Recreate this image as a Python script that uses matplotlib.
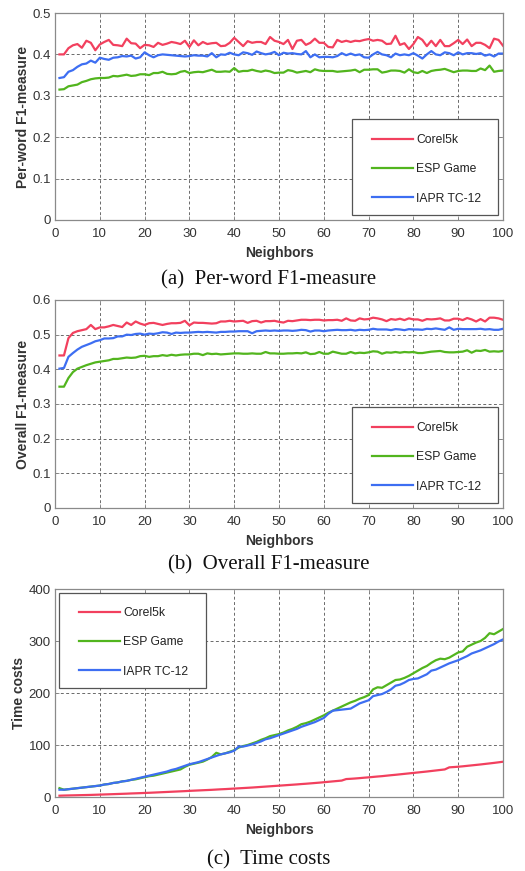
import numpy as np
import matplotlib
matplotlib.use("Agg")
import matplotlib.pyplot as plt
from matplotlib.patches import Rectangle
from matplotlib.ticker import FuncFormatter

# ---- data ------------------------------------------------------------------
neighbors = np.arange(1, 101)
labels = ["Corel5k", "ESP Game", "IAPR TC-12"]

# (a) per-word F1-measure
perword_corel = [
    0.400, 0.400, 0.415, 0.422, 0.425, 0.416, 0.433, 0.428, 0.410, 0.424,
    0.430, 0.435, 0.423, 0.422, 0.420, 0.438, 0.427, 0.426, 0.415, 0.423,
    0.422, 0.418, 0.428, 0.423, 0.426, 0.430, 0.428, 0.425, 0.433, 0.418,
    0.434, 0.422, 0.430, 0.425, 0.427, 0.428, 0.420, 0.421, 0.428, 0.440,
    0.430, 0.420, 0.432, 0.428, 0.430, 0.430, 0.425, 0.442, 0.433, 0.430,
    0.425, 0.435, 0.413, 0.433, 0.435, 0.423, 0.428, 0.438, 0.428, 0.428,
    0.418, 0.417, 0.435, 0.430, 0.433, 0.430, 0.433, 0.432, 0.435, 0.437,
    0.433, 0.435, 0.433, 0.425, 0.426, 0.445, 0.423, 0.427, 0.413, 0.425,
    0.442, 0.435, 0.420, 0.433, 0.420, 0.435, 0.420, 0.420, 0.427, 0.435,
    0.425, 0.436, 0.420, 0.428, 0.428, 0.423, 0.415, 0.438, 0.435, 0.421]
perword_esp = [
    0.315, 0.316, 0.323, 0.325, 0.327, 0.333, 0.336, 0.340, 0.342, 0.343,
    0.343, 0.344, 0.348, 0.347, 0.349, 0.351, 0.348, 0.349, 0.352, 0.352,
    0.350, 0.355, 0.355, 0.358, 0.353, 0.352, 0.353, 0.358, 0.360, 0.355,
    0.357, 0.358, 0.357, 0.360, 0.363, 0.358, 0.358, 0.359, 0.358, 0.367,
    0.358, 0.360, 0.360, 0.363, 0.360, 0.358, 0.361, 0.359, 0.355, 0.356,
    0.356, 0.362, 0.360, 0.356, 0.358, 0.360, 0.357, 0.364, 0.361, 0.360,
    0.360, 0.360, 0.358, 0.359, 0.360, 0.361, 0.363, 0.357, 0.363, 0.363,
    0.364, 0.364, 0.356, 0.358, 0.361, 0.361, 0.360, 0.356, 0.364, 0.357,
    0.355, 0.360, 0.355, 0.360, 0.362, 0.363, 0.365, 0.361, 0.357, 0.360,
    0.361, 0.361, 0.360, 0.360, 0.366, 0.362, 0.373, 0.358, 0.360, 0.361]
perword_iapr = [
    0.343, 0.345, 0.358, 0.362, 0.370, 0.376, 0.378, 0.385, 0.380, 0.392,
    0.389, 0.387, 0.392, 0.393, 0.396, 0.395, 0.397, 0.390, 0.393, 0.405,
    0.398, 0.393, 0.398, 0.400, 0.399, 0.398, 0.397, 0.396, 0.395, 0.396,
    0.398, 0.397, 0.397, 0.395, 0.403, 0.393, 0.400, 0.399, 0.404, 0.400,
    0.398, 0.405, 0.403, 0.399, 0.407, 0.403, 0.400, 0.402, 0.406, 0.398,
    0.404, 0.402, 0.403, 0.401, 0.400, 0.408, 0.393, 0.400, 0.393, 0.394,
    0.394, 0.393, 0.396, 0.403, 0.398, 0.402, 0.398, 0.400, 0.393, 0.392,
    0.400, 0.406, 0.400, 0.398, 0.393, 0.402, 0.398, 0.400, 0.398, 0.403,
    0.397, 0.390, 0.400, 0.408, 0.400, 0.398, 0.405, 0.403, 0.398, 0.405,
    0.400, 0.403, 0.403, 0.401, 0.403, 0.397, 0.400, 0.395, 0.402, 0.402]

# (b) overall F1-measure
overall_corel = [
    0.440, 0.440, 0.490, 0.505, 0.510, 0.513, 0.516, 0.528, 0.516, 0.521,
    0.521, 0.524, 0.528, 0.525, 0.522, 0.535, 0.528, 0.538, 0.532, 0.528,
    0.533, 0.534, 0.531, 0.528, 0.531, 0.533, 0.533, 0.534, 0.540, 0.527,
    0.535, 0.534, 0.534, 0.533, 0.532, 0.533, 0.538, 0.538, 0.540, 0.538,
    0.539, 0.540, 0.534, 0.539, 0.540, 0.535, 0.539, 0.539, 0.540, 0.537,
    0.535, 0.540, 0.539, 0.541, 0.543, 0.543, 0.542, 0.543, 0.543, 0.541,
    0.542, 0.542, 0.543, 0.540, 0.547, 0.541, 0.540, 0.547, 0.544, 0.545,
    0.549, 0.547, 0.544, 0.539, 0.545, 0.543, 0.546, 0.542, 0.547, 0.544,
    0.544, 0.540, 0.545, 0.544, 0.545, 0.547, 0.541, 0.541, 0.546, 0.546,
    0.542, 0.548, 0.544, 0.538, 0.545, 0.538, 0.549, 0.549, 0.547, 0.543]
overall_esp = [
    0.350, 0.350, 0.375, 0.392, 0.402, 0.407, 0.412, 0.416, 0.420, 0.422,
    0.424, 0.426, 0.430, 0.430, 0.432, 0.434, 0.433, 0.434, 0.438, 0.439,
    0.436, 0.438, 0.438, 0.441, 0.439, 0.442, 0.440, 0.442, 0.443, 0.443,
    0.445, 0.445, 0.441, 0.446, 0.444, 0.445, 0.443, 0.444, 0.445, 0.446,
    0.446, 0.445, 0.445, 0.446, 0.445, 0.445, 0.450, 0.446, 0.446, 0.445,
    0.445, 0.446, 0.446, 0.447, 0.446, 0.449, 0.444, 0.445, 0.450, 0.445,
    0.445, 0.451, 0.448, 0.445, 0.445, 0.450, 0.446, 0.448, 0.447, 0.449,
    0.452, 0.451, 0.445, 0.449, 0.448, 0.450, 0.448, 0.450, 0.449, 0.450,
    0.447, 0.447, 0.449, 0.451, 0.452, 0.453, 0.450, 0.449, 0.449, 0.450,
    0.451, 0.455, 0.448, 0.454, 0.453, 0.456, 0.451, 0.452, 0.451, 0.453]
overall_iapr = [
    0.402, 0.404, 0.436, 0.447, 0.457, 0.465, 0.470, 0.475, 0.481, 0.484,
    0.489, 0.489, 0.490, 0.495, 0.495, 0.500, 0.499, 0.502, 0.503, 0.500,
    0.503, 0.502, 0.504, 0.507, 0.506, 0.502, 0.506, 0.505, 0.506, 0.506,
    0.507, 0.508, 0.507, 0.508, 0.507, 0.506, 0.508, 0.508, 0.509, 0.509,
    0.510, 0.510, 0.510, 0.504, 0.510, 0.511, 0.512, 0.511, 0.512, 0.511,
    0.512, 0.512, 0.511, 0.512, 0.514, 0.513, 0.509, 0.512, 0.512, 0.510,
    0.512, 0.513, 0.514, 0.513, 0.513, 0.514, 0.512, 0.514, 0.513, 0.514,
    0.517, 0.515, 0.515, 0.515, 0.513, 0.516, 0.515, 0.513, 0.516, 0.515,
    0.515, 0.514, 0.517, 0.516, 0.518, 0.516, 0.514, 0.521, 0.514, 0.517,
    0.516, 0.516, 0.516, 0.516, 0.517, 0.515, 0.516, 0.514, 0.514, 0.517]

# (c) time costs
time_corel = [
    2.5, 2.8, 3.0, 3.2, 3.4, 3.6, 3.8, 4.0, 4.3, 4.6,
    4.9, 5.2, 5.5, 5.8, 6.1, 6.4, 6.8, 7.1, 7.4, 7.8,
    8.1, 8.5, 8.9, 9.3, 9.7, 10.1, 10.5, 10.9, 11.3, 11.8,
    12.2, 12.6, 13.0, 13.4, 13.8, 14.3, 14.8, 15.2, 15.7, 16.2,
    16.7, 17.2, 17.7, 18.2, 18.8, 19.4, 20.0, 20.6, 21.2, 21.8,
    22.4, 23.0, 23.6, 24.2, 24.9, 25.5, 26.2, 26.9, 27.6, 28.4,
    29.2, 30.0, 30.8, 31.6, 34.5, 35.0, 35.6, 36.3, 37.1, 37.8,
    38.6, 39.4, 40.1, 41.0, 41.9, 42.7, 43.6, 44.5, 45.4, 46.3,
    47.2, 48.1, 49.0, 50.0, 51.0, 52.0, 53.0, 57.0, 57.6, 58.2,
    59.0, 59.9, 60.8, 61.7, 62.6, 63.6, 64.6, 65.6, 66.7, 67.8]
time_esp = [
    17, 14, 15, 16, 17, 18, 19, 20, 21, 22,
    24, 25, 27, 28, 30, 31, 33, 34, 36, 38,
    40, 41, 43, 45, 47, 49, 51, 53, 58, 62,
    64, 66, 68, 72, 77, 85, 82, 84, 87, 90,
    95, 98, 100, 103, 106, 110, 113, 117, 119, 121,
    124, 128, 131, 135, 140, 142, 145, 149, 153, 157,
    162, 166, 170, 174, 178, 182, 185, 189, 192, 196,
    207, 211, 210, 215, 220, 225, 226, 229, 233, 238,
    243, 248, 252, 258, 263, 266, 265, 268, 273, 278,
    280, 289, 293, 297, 300, 306, 315, 313, 318, 323]
time_iapr = [
    14, 14, 15, 16, 17, 18, 19, 20, 21, 22,
    24, 25, 27, 28, 30, 31, 33, 35, 37, 39,
    41, 43, 45, 47, 49, 52, 54, 57, 60, 63,
    65, 67, 70, 73, 76, 79, 82, 84, 86, 89,
    97, 97, 99, 101, 104, 107, 111, 113, 116, 119,
    122, 125, 128, 131, 135, 138, 141, 144, 148, 152,
    160, 166, 167, 168, 169, 170, 175, 180, 183, 186,
    194, 196, 198, 202, 207, 214, 216, 220, 225, 227,
    228, 232, 236, 243, 245, 249, 253, 257, 260, 263,
    267, 271, 276, 279, 282, 286, 290, 294, 299, 303]

colors = ["#F2405E", "#52B51E", "#3D6EF2"]


def setup_axes(rect, ymax, ystep, ylabel, fmt):
    ax = fig.add_axes(rect)
    ax.set_xlim(0, 100)
    ax.set_ylim(0, ymax)
    ax.set_xticks(np.arange(0, 101, 10))
    ax.set_yticks(np.arange(0, ymax + ystep / 2, ystep))
    ax.yaxis.set_major_formatter(fmt)
    ax.grid(True, ls=(0, (3, 2.5)), lw=0.7, color="#6a6a6a")
    ax.set_axisbelow(True)
    for sp in ax.spines.values():
        sp.set_color("#8a8a8a")
        sp.set_linewidth(0.9)
    ax.tick_params(direction="in", length=3, width=0.6, color="#8a8a8a",
                   top=True, right=True, labelsize=9.5, labelcolor="#333333")
    ax.tick_params(axis="x", pad=6)
    ax.tick_params(axis="y", pad=3)
    ax.set_xlabel("Neighbors", fontsize=10, fontweight="bold",
                  color="#333333", labelpad=4)
    ax.set_ylabel(ylabel, fontsize=10, fontweight="bold", color="#333333",
                  labelpad=2)
    return ax


def draw_lines(ax, series):
    for vals, c, lab in zip(series, colors, labels):
        ax.plot(neighbors, vals, color=c, lw=1.6, label=lab)


def add_legend(ax, box, content_anchor):
    # MATLAB-style boxed legend: frame drawn separately so the padding
    # can be wider left/right than top/bottom
    x0, y0, x1, y1 = box
    ax.add_patch(Rectangle((x0, y0), x1 - x0, y1 - y0, transform=ax.transAxes,
                           facecolor="white", edgecolor="#555555", lw=0.9,
                           zorder=4.5))
    leg = ax.legend(loc="upper left", bbox_to_anchor=content_anchor,
                    fontsize=8.7, handlelength=3.4, handletextpad=0.25,
                    labelspacing=1.42, borderpad=0, borderaxespad=0,
                    frameon=False)
    leg.set_zorder(5)
    for t in leg.get_texts():
        t.set_color("#222222")


plt.rcParams["font.family"] = ["Liberation Sans", "DejaVu Sans"]
fig = plt.figure(figsize=(5.25, 8.71), dpi=100)

W, H = 525.0, 871.0
g = FuncFormatter(lambda v, p: "%g" % round(v, 3))

# (a)
ax1 = setup_axes([55 / W, 1 - 220 / H, 448 / W, 207 / H], 0.5, 0.1,
                 "Per-word F1-measure", g)
draw_lines(ax1, [perword_corel, perword_esp, perword_iapr])
add_legend(ax1, (0.663, 0.024, 0.989, 0.488), (0.7076, 0.414))

# (b)
ax2 = setup_axes([55 / W, 1 - 508 / H, 448 / W, 208 / H], 0.6, 0.1,
                 "Overall F1-measure", g)
draw_lines(ax2, [overall_corel, overall_esp, overall_iapr])
add_legend(ax2, (0.663, 0.0255, 0.989, 0.484), (0.7076, 0.412))

# (c)
ax3 = setup_axes([55 / W, 1 - 797 / H, 448 / W, 208 / H], 400, 100,
                 "Time costs", g)
draw_lines(ax3, [time_corel, time_esp, time_iapr])
add_legend(ax3, (0.0089, 0.524, 0.337, 0.981), (0.0536, 0.912))

# captions under each panel
cap = dict(ha="center", va="center", fontsize=15,
           family=["Liberation Serif", "DejaVu Serif"], color="#111111")
fig.text(268.5 / W, 1 - 280 / H, "(a)  Per-word F1-measure", **cap)
fig.text(268.5 / W, 1 - 565 / H, "(b)  Overall F1-measure", **cap)
fig.text(268.5 / W, 1 - 860 / H, "(c)  Time costs", **cap)

fig.savefig("out.png", dpi=100)
